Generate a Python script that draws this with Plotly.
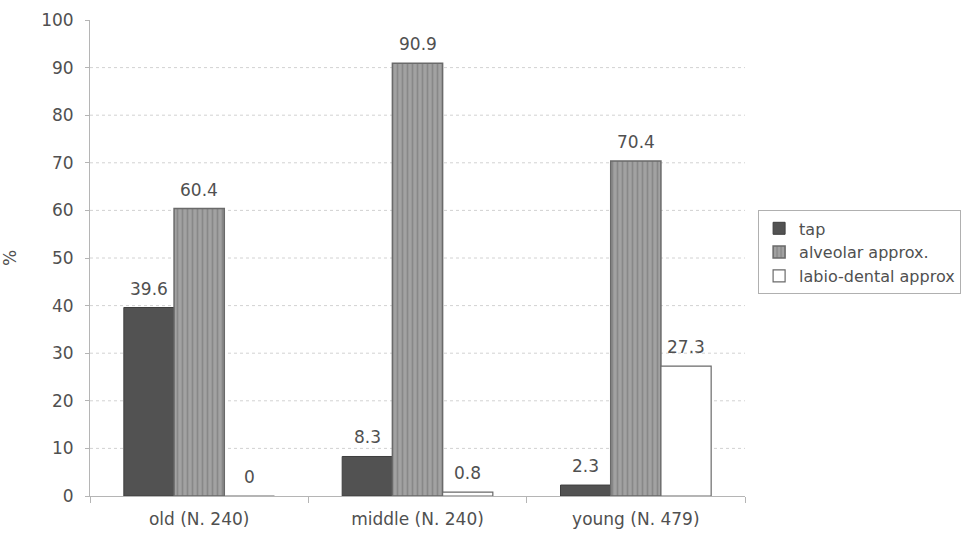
import plotly.graph_objects as go

categories = ["old (N. 240)", "middle (N. 240)", "young (N. 479)"]
tap = [39.6, 8.3, 2.3]
alveolar = [60.4, 90.9, 70.4]
labio = [0, 0.8, 27.3]
series_names = ["tap", "alveolar approx.", "labio-dental approx"]
y_ticks = [0, 10, 20, 30, 40, 50, 60, 70, 80, 90, 100]
grid_vals = [10, 20, 30, 40, 50, 60, 70, 80, 90]

FONT = "DejaVu Sans"
TXT = "#505050"
BARGAP = 0.31

fig = go.Figure()
fig.add_trace(go.Bar(
    x=categories, y=tap, name=series_names[0],
    marker=dict(color="#525252", line=dict(color="#3e3e3e", width=1)),
))
fig.add_trace(go.Bar(
    x=categories, y=alveolar, name=series_names[1],
    marker=dict(color="#9a9a9a", line=dict(color="#6a6a6a", width=1.5),
                pattern=dict(shape="|", fgcolor="#6e6e6e", bgcolor="#a2a2a2",
                             size=5, solidity=0.35)),
))
fig.add_trace(go.Bar(
    x=categories, y=labio, name=series_names[2],
    marker=dict(color="#ffffff", line=dict(color="#6a6a6a", width=1.2)),
))

# value labels, placed at each bar's centre (derived from group layout)
bar_w = (1 - BARGAP) / 3
for si, vals in enumerate([tap, alveolar, labio]):
    for ci, v in enumerate(vals):
        fig.add_annotation(x=ci + (si - 1) * bar_w, y=v, xref="x", yref="y",
                           text=f"{v:g}", showarrow=False, yanchor="bottom",
                           yshift=7, font=dict(family=FONT, size=17, color=TXT))

for v in grid_vals:
    fig.add_shape(type="line", xref="paper", x0=0, x1=1, yref="y", y0=v, y1=v,
                  line=dict(color="#d2d2d2", width=1, dash="dot"), layer="below")

fig.update_layout(
    width=977, height=537,
    margin=dict(l=90, r=232, t=20, b=41, autoexpand=False),
    paper_bgcolor="white", plot_bgcolor="white",
    barmode="group", bargap=BARGAP, bargroupgap=0,
    font=dict(family=FONT, size=17, color=TXT),
    showlegend=True,
    legend=dict(x=1.02, y=0.6, xanchor="left", yanchor="top",
                bordercolor="#b0b0b0", borderwidth=1, bgcolor="white",
                font=dict(family=FONT, size=16, color=TXT),
                itemwidth=30, tracegroupgap=0),
    xaxis=dict(showline=True, linecolor="#b5b5b5", linewidth=1,
               ticks="outside", tickson="boundaries", ticklen=6, tickcolor="#b5b5b5",
               showgrid=False, ticklabelstandoff=8, automargin=False,
               tickfont=dict(family=FONT, size=17, color=TXT)),
    yaxis=dict(range=[0, 100], tickvals=y_ticks, showgrid=False,
               showline=True, linecolor="#b5b5b5", linewidth=1,
               ticks="outside", ticklen=4, tickcolor="#b5b5b5",
               zeroline=False, ticklabelstandoff=8, automargin=False,
               tickfont=dict(family=FONT, size=17, color=TXT),
               title=dict(text="%", font=dict(family=FONT, size=17, color=TXT), standoff=22)),
)

fig.write_html("out.html")
